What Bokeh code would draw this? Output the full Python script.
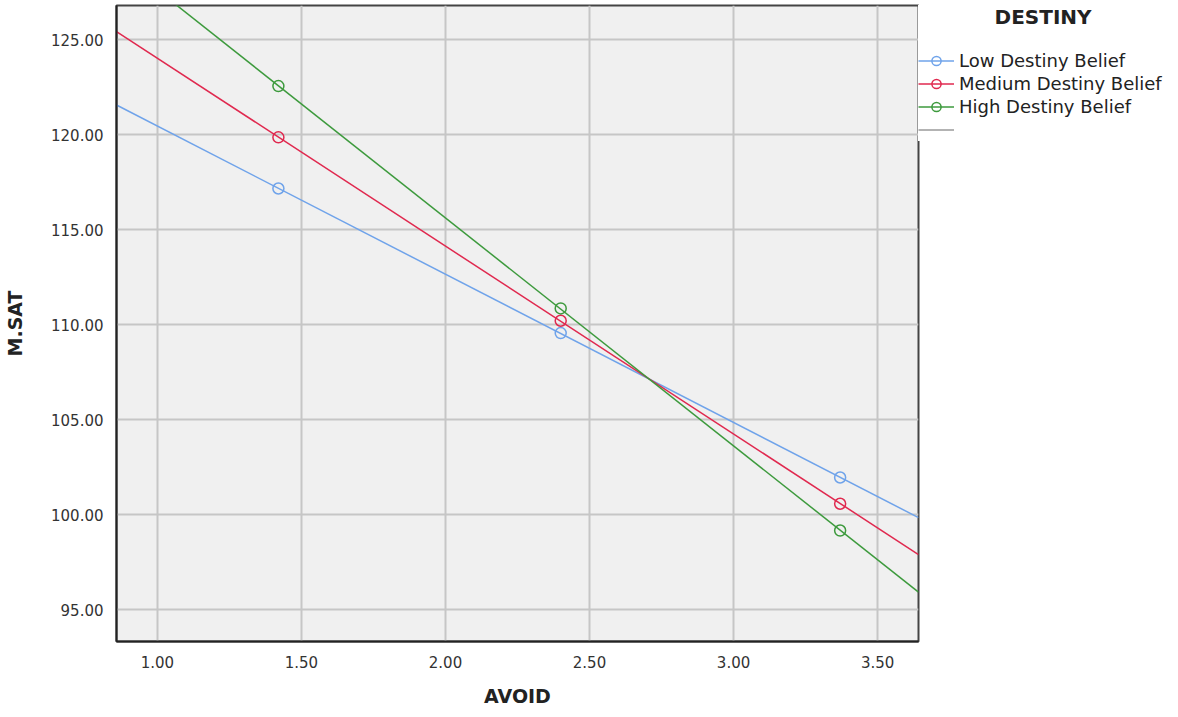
import numpy as np
from bokeh.plotting import figure
from bokeh.models import Legend, LegendItem, FixedTicker, NumeralTickFormatter, Range1d
from bokeh.embed import file_html
from bokeh.resources import INLINE

# ---- data ----
groups = ["Low Destiny Belief", "Medium Destiny Belief", "High Destiny Belief"]
avoid = [1.42, 2.40, 3.37]
low = [117.16, 109.55, 101.95]
medium = [119.85, 110.20, 100.57]
high = [122.55, 110.85, 99.16]
colors = ["#6fa3ea", "#e0294f", "#3d9a3d"]
x_ticks = [1.0, 1.5, 2.0, 2.5, 3.0, 3.5]
y_ticks = [95, 100, 105, 110, 115, 120, 125]
x_lo, x_hi = 0.858, 3.642
y_lo, y_hi = 93.32, 126.79

FONT = "DejaVu Sans"

p = figure(frame_width=802, frame_height=636, output_backend="svg", toolbar_location=None,
           x_range=Range1d(x_lo, x_hi), y_range=Range1d(y_lo, y_hi),
           min_border_left=116, min_border_right=251, min_border_top=5, min_border_bottom=64)

p.background_fill_color = "#f0f0f0"
p.border_fill_color = "white"
p.outline_line_color = "#444444"
p.outline_line_width = 2

p.xgrid.ticker = FixedTicker(ticks=x_ticks)
p.ygrid.ticker = FixedTicker(ticks=y_ticks)
p.grid.grid_line_color = "#c6c6c6"
p.grid.grid_line_width = 2

for ax in (p.xaxis, p.yaxis):
    ax.major_tick_line_color = None
    ax.minor_tick_line_color = None
    ax.axis_line_color = "#222222"
    ax.axis_line_width = 2
    ax.major_label_text_font = FONT
    ax.major_label_text_font_size = "15px"
    ax.major_label_text_color = "#333333"
    ax.axis_label_text_font = FONT
    ax.axis_label_text_font_size = "19px"
    ax.axis_label_text_font_style = "bold"
    ax.axis_label_text_color = "#222222"
    ax.formatter = NumeralTickFormatter(format="0.00")

p.xaxis.ticker = FixedTicker(ticks=x_ticks)
p.yaxis.ticker = FixedTicker(ticks=y_ticks)
p.xaxis.axis_label = "AVOID"
p.yaxis.axis_label = "M.SAT"
p.xaxis.major_label_standoff = 8
p.yaxis.major_label_standoff = 7
p.xaxis.axis_label_standoff = 14
p.yaxis.axis_label_standoff = 22

items = []
xs_line = np.array([x_lo, x_hi])
for name, vals, col in zip(groups, [low, medium, high], colors):
    slope, icpt = np.polyfit(avoid, vals, 1)
    lr = p.line(xs_line, icpt + slope * xs_line, line_color=col, line_width=1.5)
    sr = p.scatter(avoid, vals, marker="circle", size=11, fill_color=None,
                   line_color=col, line_width=1.5)
    items.append(LegendItem(label=name, renderers=[lr, sr]))

# legend-only gray entry (a single NaN point draws nothing in the plot)
gray = p.line([avoid[0]], [np.nan], line_color="#9a9a9a", line_width=1.5)
items.append(LegendItem(label="", renderers=[gray]))

legend = Legend(items=items, location="top_left", margin=0, padding=6,
                orientation="vertical", ncols=1,
                title="\u00a0" * 11 + "DESTINY", title_text_font=FONT,
                title_text_font_size="20px", title_text_font_style="bold",
                title_text_color="#222222", title_standoff=20,
                glyph_width=36, glyph_height=23, label_height=23, spacing=0,
                label_standoff=5, border_line_color=None,
                background_fill_color="white", background_fill_alpha=1.0,
                label_text_font=FONT, label_text_font_size="18px",
                label_text_color="#222222")
p.add_layout(legend, "right")

open("out.html", "w").write(file_html(p, INLINE))
